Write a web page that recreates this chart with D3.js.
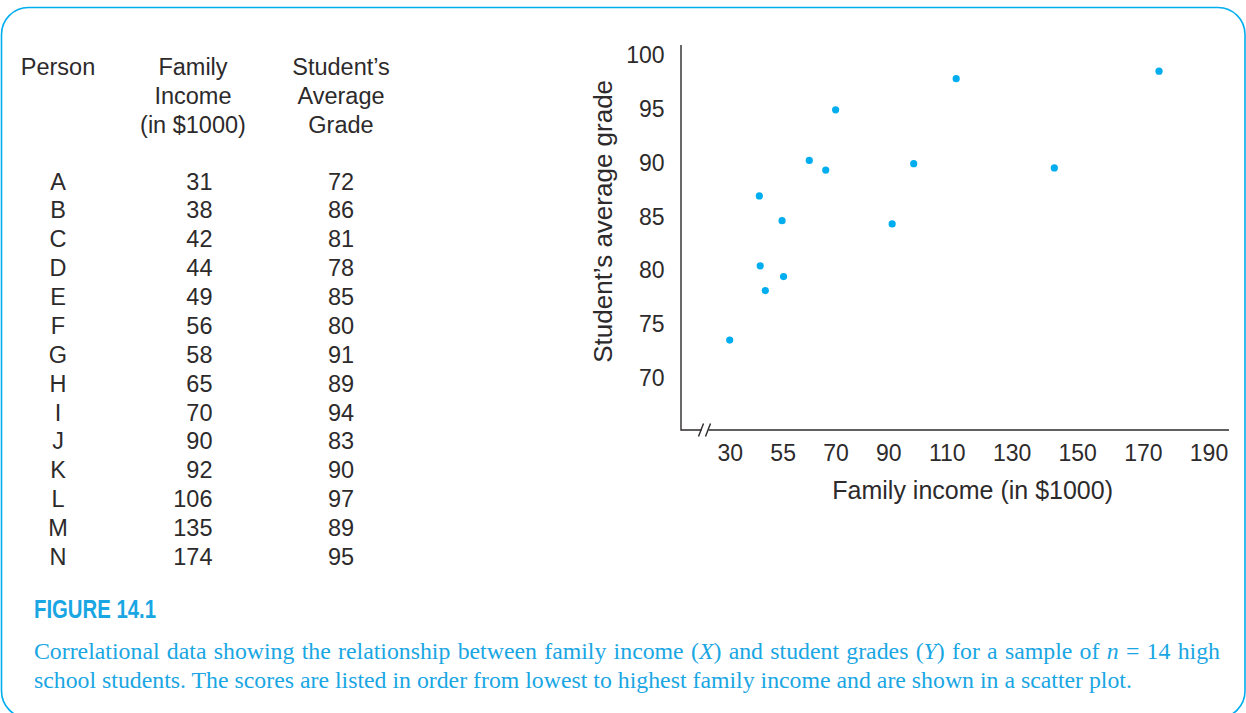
<!DOCTYPE html>
<html>
<head>
<meta charset="utf-8">
<script src="https://cdn.jsdelivr.net/npm/d3@7"></script>
<style>
  html, body { margin: 0; padding: 0; background: #ffffff; }
  svg { display: block; }
</style>
</head>
<body>
<svg id="chart" width="1246" height="713"></svg>
<script>
// ---------------- DATA ----------------
const persons = ["A","B","C","D","E","F","G","H","I","J","K","L","M","N"];
const familyIncome = [31,38,42,44,49,56,58,65,70,90,92,106,135,174];
const averageGrade = [72,86,81,78,85,80,91,89,94,83,90,97,89,95];
// positions of the dots as they are drawn in the figure's scatter plot
const plottedIncome = [29.8,39.7,40.0,41.7,47.3,47.8,56.4,61.9,65.2,84.1,91.3,105.5,138.3,173.3];
const plottedGrade  = [73.5,86.9,80.4,78.1,84.6,79.4,90.2,89.3,94.9,84.3,89.9,97.8,89.5,98.5];
const xTickLabels = ["30","55","70","90","110","130","150","170","190"];
const yTickValues = [70,75,80,85,90,95,100];
const headerPerson = ["Person"];
const headerIncome = ["Family","Income","(in $1000)"];
const headerGrade = ["Student\u2019s","Average","Grade"];
const xTitle = "Family income (in $1000)";
const yTitle = "Student\u2019s average grade";
const figLabel = "FIGURE 14.1";
const captionLine1 = [
  ["Correlational data showing the relationship between family income (", false],
  ["X", true],
  [") and student grades (", false],
  ["Y", true],
  [") for a sample of ", false],
  ["n", true],
  [" = 14 high", false]
];
const captionLine2 = "school students. The scores are listed in order from lowest to highest family income and are shown in a scatter plot.";

// ---------------- STYLE ----------------
const ink = "#2d2a2b";
const cyan = "#00aeef";
const capBlue = "#19a6e3";
const sans = "'Liberation Sans', Arial, sans-serif";
const serif = "'Liberation Serif', 'Times New Roman', serif";

const svg = d3.select("#chart");

// frame
svg.append("rect")
  .attr("x", 1.5).attr("y", 7.5)
  .attr("width", 1243.5).attr("height", 710.5)
  .attr("rx", 27).attr("ry", 27)
  .attr("fill", "none").attr("stroke", cyan).attr("stroke-width", 1.6);

// ---------------- TABLE ----------------
const table = svg.append("g").attr("font-family", sans).attr("fill", ink).attr("font-size", 23.5);
const colPerson = 58, colIncomeHead = 193, colIncomeRight = 212.5, colGrade = 341;
const headTop = 74.5, headStep = 29;
const rowY = d3.scalePoint().domain(persons).range([189.5, 565]);

function header(lines, cx) {
  table.append("g").selectAll("text").data(lines).join("text")
    .attr("x", cx).attr("y", (d, i) => headTop + i * headStep)
    .attr("text-anchor", "middle").text(d => d);
}
header(headerPerson, colPerson);
header(headerIncome, colIncomeHead);
header(headerGrade, colGrade);

table.append("g").selectAll("text").data(persons).join("text")
  .attr("x", colPerson).attr("y", d => rowY(d)).attr("text-anchor", "middle").text(d => d);
table.append("g").selectAll("text").data(familyIncome).join("text")
  .attr("x", colIncomeRight).attr("y", (d, i) => rowY(persons[i])).attr("text-anchor", "end").text(d => d);
table.append("g").selectAll("text").data(averageGrade).join("text")
  .attr("x", colGrade).attr("y", (d, i) => rowY(persons[i])).attr("text-anchor", "middle").text(d => d);

// ---------------- SCATTER ----------------
const axisLeft = 681, axisTop = 45, axisBottom = 430, axisRight = 1229;
const x = d3.scaleLinear().domain([+xTickLabels[0], +xTickLabels[xTickLabels.length - 1]]).range([730.3, 1209]);
const y = d3.scaleLinear().domain([70, 100]).range([377.7, 55]);

const plot = svg.append("g");

function line(pts) {
  return plot.append("path").attr("d", d3.line()(pts))
    .attr("stroke", ink).attr("stroke-width", 1.4).attr("fill", "none");
}
line([[axisLeft, axisTop], [axisLeft, axisBottom], [701.5, axisBottom]]);
line([[708.5, axisBottom], [axisRight, axisBottom]]);
line([[698.5, axisBottom + 6.5], [703.5, axisBottom - 6.5]]);
line([[705.5, axisBottom + 6.5], [710.5, axisBottom - 6.5]]);

// y tick labels
plot.append("g").attr("font-family", sans).attr("font-size", 23).attr("fill", ink)
  .selectAll("text").data(yTickValues).join("text")
  .attr("x", 664.5).attr("y", d => y(d)).attr("dy", "0.36em")
  .attr("text-anchor", "end").text(d => d);

// x tick labels: flowed with equal gaps between first and last tick positions
const xl = plot.append("g").attr("font-family", sans).attr("font-size", 23).attr("fill", ink)
  .selectAll("text").data(xTickLabels).join("text")
  .attr("y", 460.7).attr("text-anchor", "start").text(d => d);
const widths = xl.nodes().map(n => n.getComputedTextLength());
const n = xTickLabels.length;
const leftEdge = x(+xTickLabels[0]) - widths[0] / 2;
const rightEdge = x(+xTickLabels[n - 1]) + widths[n - 1] / 2;
const gap = (rightEdge - leftEdge - d3.sum(widths)) / (n - 1);
let cursor = leftEdge;
xl.each(function(d, i) {
  d3.select(this).attr("x", cursor);
  cursor += widths[i] + gap;
});

// axis titles
plot.append("text").attr("font-family", sans).attr("font-size", 25).attr("fill", ink)
  .attr("x", (x.range()[0] + x.range()[1]) / 2 + 3).attr("y", 499)
  .attr("text-anchor", "middle").text(xTitle);
plot.append("text").attr("font-family", sans).attr("font-size", 26).attr("fill", ink)
  .attr("transform", `translate(611.5, ${(y.range()[0] + y.range()[1]) / 2 + 5}) rotate(-90)`)
  .attr("text-anchor", "middle").text(yTitle);

// dots
plot.append("g").selectAll("circle").data(plottedIncome).join("circle")
  .attr("cx", d => x(d)).attr("cy", (d, i) => y(plottedGrade[i]))
  .attr("r", 3.6).attr("fill", cyan);

// ---------------- CAPTION ----------------
const capLeft = 34, capRight = 1220;
svg.append("text").attr("x", capLeft).attr("y", 618)
  .attr("font-family", "'Liberation Sans Narrow', 'Liberation Sans', Arial, sans-serif")
  .attr("font-weight", "bold").attr("font-size", 25).attr("fill", capBlue)
  .attr("textLength", 122).attr("lengthAdjust", "spacingAndGlyphs")
  .text(figLabel);

const cap = svg.append("g").attr("font-family", serif).attr("font-size", 23.8).attr("fill", capBlue);
const l1 = cap.append("text").attr("x", capLeft).attr("y", 659);
captionLine1.forEach(([t, it]) => l1.append("tspan").attr("font-style", it ? "italic" : "normal").text(t));
// justify the first line of the paragraph
const natural = l1.node().getComputedTextLength();
const spaces = captionLine1.map(d => d[0]).join("").split(" ").length - 1;
l1.attr("word-spacing", Math.max(0, (capRight - capLeft - natural) / spaces));
cap.append("text").attr("x", capLeft).attr("y", 688).text(captionLine2);
</script>
</body>
</html>
